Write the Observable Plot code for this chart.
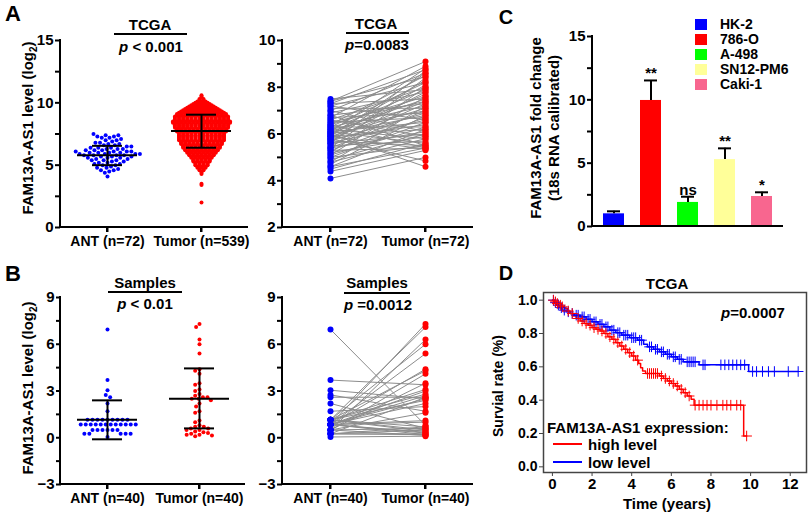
<!DOCTYPE html>
<html><head><meta charset="utf-8">
<script src="https://cdn.jsdelivr.net/npm/d3@7"></script>
<script src="https://cdn.jsdelivr.net/npm/@observablehq/plot@0.6"></script>
<style>
body{margin:0;background:#fff;}
#fig{position:relative;width:809px;height:513px;overflow:hidden;background:#fff;font-family:"Liberation Sans",Arial,sans-serif;font-weight:bold;color:#000;}
</style></head><body><div id="fig"></div>
<script>
// ---------- DATA ----------
// Panel A (left): TCGA unpaired
const aGroups = ["ANT (n=72)", "Tumor (n=539)"];
const aAntValues = [4.1,4.4,4.5,4.6,4.6,4.7,4.8,4.8,4.9,5.0,5.0,5.1,5.1,5.2,5.2,5.3,5.3,5.4,5.4,5.4,5.5,5.5,5.6,5.6,5.6,5.7,5.7,5.7,5.8,5.8,5.8,5.8,5.9,5.9,5.9,5.9,6.0,6.0,6.0,6.0,6.1,6.1,6.1,6.1,6.2,6.2,6.2,6.3,6.3,6.3,6.4,6.4,6.4,6.5,6.5,6.6,6.6,6.7,6.7,6.8,6.8,6.9,7.0,7.0,7.1,7.2,7.2,7.3,7.3,7.4,7.4,7.5];
const aTumorLevels = [10.6,10.5,10.4,10.3,10.2,10.1,10.0,9.9,9.8,9.7,9.6,9.5,9.4,9.3,9.2,9.1,9.0,8.9,8.8,8.7,8.6,8.5,8.4,8.3,8.2,8.1,8.0,7.9,7.8,7.7,7.6,7.5,7.4,7.3,7.2,7.1,7.0,6.9,6.8,6.7,6.6,6.5,6.4,6.3,6.2,6.1,6.0,5.9,5.8,5.7,5.6,5.5,5.4,5.3,5.2,5.1,5.0,4.9,4.8,4.7,4.6,4.5,4.4,4.3,3.5,3.4,2.0];
const aTumorCounts = [1,1,1,2,2,3,4,5,6,7,8,9,10,11,12,13,13,14,14,14,14,15,15,14,14,14,14,13,13,13,12,12,12,12,12,12,12,11,11,11,10,10,10,9,9,8,8,7,7,6,6,5,5,5,4,4,4,3,3,2,2,1,1,1,1,1,1];
const aMeans = [5.8, 7.75];
const aSdLow = [5.0, 6.4];
const aSdHigh = [6.55, 9.05];
const aYTicks = [0, 5, 10, 15];
const aYMinor = [2.5, 7.5, 12.5];

// Panel A (right): TCGA paired
const apGroups = ["ANT (n=72)", "Tumor (n=72)"];
const apAnt = aAntValues;
const apTumor = [5.0,5.3,5.6,6.2,5.4,6.8,5.8,7.2,6.0,6.5,5.5,7.6,6.3,5.9,8.0,6.7,5.4,7.0,6.1,8.4,5.7,7.3,6.6,8.7,6.0,7.8,5.5,6.9,4.85,7.4,8.1,6.4,5.35,7.1,8.6,6.2,7.7,4.6,6.8,8.3,5.6,7.5,6.5,8.8,7.0,5.8,7.9,6.3,8.2,7.2,5.4,7.6,8.5,6.7,7.4,5.9,8.0,6.9,8.9,7.3,5.5,7.8,6.1,8.6,7.1,8.2,6.6,8.75,7.5,9.1,8.45,7.9];
const apYTicks = [2, 4, 6, 8, 10];
const apYMinor = [3, 5, 7, 9];

// Panel B: clinical samples
const bGroups = ["ANT (n=40)", "Tumor (n=40)"];
const bAnt = [6.95,3.7,3.05,2.75,2.6,2.2,1.7,1.15,1.15,1.15,1.15,1.15,1.15,1.15,1.15,1.15,0.85,0.85,0.85,0.85,0.85,0.85,0.85,0.85,0.85,0.85,0.85,0.85,0.5,0.5,0.5,0.5,0.5,0.5,0.25,0.25,0.25,0.25,0.25,0.05];
const bTumor = [7.3,7.1,6.3,6.0,5.4,4.4,4.3,4.1,3.5,3.4,3.1,3.0,2.8,2.7,2.6,2.6,2.5,2.5,2.4,2.2,2.0,1.7,1.6,1.1,1.0,0.8,0.7,0.7,0.6,0.6,0.5,0.5,0.4,0.35,0.3,0.25,0.2,0.2,0.15,0.1];
const bTumorPaired = [0.8,3.4,2.5,1.7,2.6,0.6,2.0,7.1,4.3,0.5,2.8,0.4,6.0,2.4,0.7,3.1,1.0,5.4,0.3,2.2,4.4,0.2,2.7,1.1,7.3,3.0,0.35,2.5,6.3,0.6,4.1,0.15,3.5,1.6,0.25,2.6,0.5,0.7,0.2,0.1];
const bMeans = [1.15, 2.5];
const bSdLow = [-0.1, 0.6];
const bSdHigh = [2.4, 4.45];
const bYTicks = [-3, 0, 3, 6, 9];
const bYMinor = [-1.5, 1.5, 4.5, 7.5];

// Panel C: cell lines
const cCells = ["HK-2", "786-O", "A-498", "SN12-PM6", "Caki-1"];
const cValues = [1.0, 9.95, 1.9, 5.28, 2.37];
const cErrors = [0.2, 1.58, 0.45, 0.89, 0.33];
const cSignif = ["", "**", "ns", "**", "*"];
const cYTicks = [0, 5, 10, 15];
const cYMinor = [2.5, 7.5, 12.5];

// Panel D: Kaplan-Meier
const dHighT = [0,0.1,0.2,0.3,0.45,0.6,0.75,0.9,1.05,1.2,1.4,1.6,1.8,2.0,2.2,2.4,2.6,2.8,3.0,3.2,3.4,3.6,3.8,4.0,4.2,4.35,4.45,4.55,4.7,5.4,5.6,5.8,6.0,6.2,6.4,6.6,6.8,7.0,7.15,9.65,9.8];
const dHighS = [1.0,0.99,0.98,0.97,0.96,0.95,0.935,0.92,0.905,0.89,0.875,0.86,0.85,0.835,0.825,0.815,0.80,0.78,0.765,0.745,0.725,0.705,0.685,0.665,0.64,0.62,0.595,0.575,0.56,0.545,0.53,0.515,0.5,0.485,0.465,0.445,0.425,0.405,0.37,0.185,0.185];
const dHighCensor = [0.05,0.15,0.25,0.4,0.5,0.8,1.0,1.3,1.5,1.7,1.9,2.1,2.3,2.5,2.7,2.9,3.1,3.3,3.5,3.7,3.9,4.1,4.3,4.8,4.9,5.0,5.1,5.2,5.3,5.5,5.7,5.9,6.1,6.3,6.5,6.7,6.9,7.2,7.4,7.6,7.8,8.0,8.3,8.6,8.8,9.0,9.3,9.5,9.8];
const dLowT = [0,0.1,0.2,0.35,0.5,0.7,0.9,1.1,1.4,1.7,2.0,2.3,2.6,2.9,3.2,3.5,3.9,4.3,4.6,4.8,5.1,5.4,5.7,6.0,6.3,6.6,7.4,9.9,12.4];
const dLowS = [1.0,0.985,0.97,0.955,0.94,0.93,0.92,0.91,0.9,0.885,0.87,0.855,0.84,0.82,0.805,0.79,0.775,0.76,0.735,0.72,0.705,0.69,0.675,0.66,0.645,0.63,0.612,0.572,0.572];
const dLowCensor = [0.05,0.15,0.3,0.45,0.6,0.8,1.0,1.2,1.3,1.5,1.6,1.8,1.9,2.1,2.2,2.4,2.5,2.7,2.8,3.0,3.1,3.3,3.4,3.6,3.7,3.8,4.0,4.1,4.2,4.4,4.5,4.9,5.0,5.2,5.3,5.5,5.6,5.8,5.9,6.1,6.2,6.4,6.5,6.8,6.9,7.0,7.1,7.2,7.6,7.7,8.5,8.7,8.9,9.1,9.3,9.5,9.7,10.1,10.3,10.6,10.9,11.2,11.9,12.4];
const dXTicks = [0, 2, 4, 6, 8, 10, 12];
const dYTicks = [0, 0.2, 0.4, 0.6, 0.8, 1.0];
const dLegend = ["high level", "low level"];

// ---------- STYLE ----------
const BLUE = "#0000ff", RED = "#ff0000", GRAY = "#8c8c8c", INK = "#000000";
const cColors = ["#0000ff", "#ff0000", "#00ff00", "#ffff99", "#f8668f"];
const FONT = '"Liberation Sans", Arial, sans-serif';
const baseStyle = {fontFamily: FONT, fontSize: "15px", fontWeight: "bold", color: "#000", background: "transparent", overflow: "visible"};
const tickStyle = {stroke: INK, strokeWidth: 2, fill: INK};

const fig = document.getElementById("fig");
function addSvg(svg, left, top) {
  svg.style.position = "absolute"; svg.style.left = left + "px"; svg.style.top = top + "px";
  fig.appendChild(svg);
  return svg;
}
function addText(html, x, y, size, opts = {}) {
  const d = document.createElement("div");
  d.innerHTML = html;
  const tr = (opts.anchor === "start" ? "translate(0,-50%)" : "translate(-50%,-50%)") + (opts.rotate ? ` rotate(${opts.rotate}deg)` : "");
  Object.assign(d.style, {position: "absolute", left: x + "px", top: y + "px", fontSize: size + "px", lineHeight: opts.lh || "1", whiteSpace: "nowrap", transform: tr, textAlign: "center"});
  fig.appendChild(d);
}
function addBox(x, y, w, h, color) {
  const d = document.createElement("div");
  Object.assign(d.style, {position: "absolute", left: x + "px", top: y + "px", width: w + "px", height: h + "px", background: color});
  fig.appendChild(d);
}
function addRect(cx, cy, w, h, color) { addBox(cx - w / 2, cy - h / 2, w, h, color); }
// L-shaped axis lines + category ticks, placed from the plot's own frame and scale
function axisFrame(svg, left, top, o, scaleName) {
  const x0 = left + o.ml, x1 = left + o.width - o.mr;
  const yt = top + o.mt, yb = top + o.height - o.mb;
  addBox(x0 - 1, yt - 1, 2, yb - yt + 2, INK);
  addBox(x0 - 1, yb - 1, x1 - x0 + 1, 2, INK);
  if (scaleName) {
    const s = svg.scale(scaleName);
    const bw = s.bandwidth || 0;
    s.domain.forEach(v => addBox(left + s.apply(v) + bw / 2 - 1, yb, 2, 5, INK));
  }
}

// ---------- SWARM PANELS (A left, B left) ----------
function swarmPlot(o) {
  const left = o.leftValues.map(v => ({group: o.groups[0], value: v}));
  const stats = o.groups.map((g, i) => ({group: g, mean: o.means[i], lo: o.lo[i], hi: o.hi[i]}));
  const rightMark = o.rightRows
    ? Plot.dot(o.rightRows, {fx: "group", x: "offset", y: "value", r: 2, fill: RED})
    : Plot.dot(o.rightValues.map(v => ({group: o.groups[1], value: v})), Plot.dodgeX({anchor: "middle", padding: o.padR}, {fx: "group", y: "value", r: 2, fill: RED}));
  return Plot.plot({
    width: o.width, height: o.height,
    marginLeft: o.ml, marginRight: o.mr, marginTop: o.mt, marginBottom: o.mb,
    style: baseStyle,
    fx: {domain: o.groups, padding: 0, label: null},
    x: {domain: [-o.xHalf, o.xHalf], axis: null},
    y: {domain: o.yDomain, label: null},
    marks: [
      Plot.dot(left, Plot.dodgeX({anchor: "middle", padding: o.padL}, {fx: "group", y: "value", r: 2, fill: BLUE})),
      rightMark,
      Plot.ruleX(stats, {fx: "group", x: null, y1: "lo", y2: "hi", stroke: INK, strokeWidth: 2}),
      Plot.tickY(stats, {fx: "group", y: "mean", stroke: INK, strokeWidth: 2, insetLeft: o.meanInset, insetRight: o.meanInset}),
      Plot.tickY(stats, {fx: "group", y: "lo", stroke: INK, strokeWidth: 2, insetLeft: o.sdInset, insetRight: o.sdInset}),
      Plot.tickY(stats, {fx: "group", y: "hi", stroke: INK, strokeWidth: 2, insetLeft: o.sdInset, insetRight: o.sdInset}),
      Plot.axisY({ticks: o.yTicks, tickSize: 5, tickPadding: 2, ...tickStyle, fontSize: 15, label: null}),
      Plot.axisY({ticks: o.yMinor, tickSize: 5, tickFormat: () => "", ...tickStyle, label: null}),
      Plot.axisFx({anchor: "bottom", tickSize: 5, tickPadding: 4, ...tickStyle, fontSize: 14, label: null})
    ]
  });
}

// Tumor (n=539): dots laid side by side within each value row
const aTumorRows = aTumorLevels.flatMap((v, i) =>
  d3.range(aTumorCounts[i]).map(j => ({group: aGroups[1], value: v, offset: j - (aTumorCounts[i] - 1) / 2})));

const aOpts = {
  groups: aGroups, leftValues: aAntValues, rightRows: aTumorRows,
  means: aMeans, lo: aSdLow, hi: aSdHigh, yDomain: [0, 15], yTicks: aYTicks, yMinor: aYMinor, xHalf: 11.5,
  width: 255, height: 255, ml: 60, mr: 7, mt: 40, mb: 28, padL: 0.6, meanInset: 17, sdInset: 32
};
const aSvg = addSvg(swarmPlot(aOpts), 0, 0);
axisFrame(aSvg, 0, 0, aOpts, "fx");

const bOpts = {
  groups: bGroups, leftValues: bAnt, rightValues: bTumor,
  means: bMeans, lo: bSdLow, hi: bSdHigh, yDomain: [-3, 9], yTicks: bYTicks, yMinor: bYMinor, xHalf: 11.5,
  width: 255, height: 253, ml: 60, mr: 10, mt: 37, mb: 29, padL: 1, padR: 0.6, meanInset: 16, sdInset: 31
};
const bSvg = addSvg(swarmPlot(bOpts), 0, 260);
axisFrame(bSvg, 0, 260, bOpts, "fx");

// ---------- PAIRED PANELS (A right, B right) ----------
function pairedPlot(o) {
  const pairs = o.leftValues.map((v, i) => ({g1: o.groups[0], g2: o.groups[1], a: v, t: o.rightValues[i]}));
  return Plot.plot({
    width: o.width, height: o.height,
    marginLeft: o.ml, marginRight: o.mr, marginTop: o.mt, marginBottom: o.mb,
    style: baseStyle,
    x: {type: "point", domain: o.groups, padding: 0.5, label: null},
    y: {domain: o.yDomain, label: null},
    marks: [
      Plot.link(pairs, {x1: "g1", y1: "a", x2: "g2", y2: "t", stroke: GRAY, strokeWidth: 1}),
      Plot.dot(pairs, {x: "g1", y: "a", r: 3, fill: BLUE}),
      Plot.dot(pairs, {x: "g2", y: "t", r: 3, fill: RED}),
      Plot.axisY({ticks: o.yTicks, tickSize: 5, tickPadding: 2, ...tickStyle, fontSize: 15, label: null}),
      Plot.axisY({ticks: o.yMinor, tickSize: 5, tickFormat: () => "", ...tickStyle, label: null}),
      Plot.axisX({tickSize: 5, tickPadding: 4, ...tickStyle, fontSize: 14, label: null})
    ]
  });
}

const apOpts = {groups: apGroups, leftValues: apAnt, rightValues: apTumor, yDomain: [2, 10], yTicks: apYTicks, yMinor: apYMinor,
  width: 218, height: 255, ml: 22, mr: 5, mt: 40, mb: 28};
const apSvg = addSvg(pairedPlot(apOpts), 260, 0);
axisFrame(apSvg, 260, 0, apOpts, "x");

const bpOpts = {groups: bGroups, leftValues: bAnt, rightValues: bTumorPaired, yDomain: [-3, 9], yTicks: bYTicks, yMinor: bYMinor,
  width: 218, height: 253, ml: 22, mr: 5, mt: 37, mb: 29};
const bpSvg = addSvg(pairedPlot(bpOpts), 260, 260);
axisFrame(bpSvg, 260, 260, bpOpts, "x");

// ---------- PANEL C ----------
const cData = cCells.map((c, i) => ({cell: c, value: cValues[i], top: cValues[i] + cErrors[i], sig: cSignif[i]}));
const cOpts = {width: 249, height: 245, ml: 32, mr: 26, mt: 36, mb: 19};
const cSvg = addSvg(Plot.plot({
  width: cOpts.width, height: cOpts.height, marginLeft: cOpts.ml, marginRight: cOpts.mr, marginTop: cOpts.mt, marginBottom: cOpts.mb,
  style: baseStyle,
  x: {domain: cCells, paddingInner: 0.42, paddingOuter: 0.24, axis: null},
  y: {domain: [0, 15], label: null},
  color: {domain: cCells, range: cColors},
  marks: [
    Plot.barY(cData, {x: "cell", y: "value", fill: "cell"}),
    Plot.ruleX(cData, {x: "cell", y1: "value", y2: "top", stroke: INK, strokeWidth: 2}),
    Plot.tickY(cData, {x: "cell", y: "top", stroke: INK, strokeWidth: 2, insetLeft: 4, insetRight: 4}),
    Plot.text(cData, {x: "cell", y: "top", text: "sig", lineAnchor: "bottom", dy: -2, fontSize: 15, fill: INK}),
    Plot.axisY({ticks: cYTicks, tickSize: 5, tickPadding: 2, ...tickStyle, fontSize: 15, label: null}),
    Plot.axisY({ticks: cYMinor, tickSize: 5, tickFormat: () => "", ...tickStyle, label: null})
  ]
}), 560, 0);
axisFrame(cSvg, 560, 0, cOpts, null);

// legend C
cCells.forEach((c, i) => {
  addRect(701, 24 + i * 15, 12, 11, cColors[i]);
  addText(c, 720, 24 + i * 15, 14, {anchor: "start"});
});

// ---------- PANEL D ----------
function stepSeries(T, S) { return T.map((t, i) => ({t, s: S[i]})); }
function censorPoints(T, S, C) {
  const bis = d3.bisector(d => d).right;
  return C.map(t => ({t, s: S[Math.max(0, bis(T, t) - 1)]}));
}
const dHigh = stepSeries(dHighT, dHighS);
const dLow = stepSeries(dLowT, dLowS);
addSvg(Plot.plot({
  width: 304, height: 248, marginLeft: 38, marginRight: 3, marginTop: 27, marginBottom: 41,
  style: baseStyle,
  x: {domain: [-0.45, 12.82], label: null},
  y: {domain: [-0.034, 1.046], label: null},
  marks: [
    Plot.frame({stroke: "#444", strokeWidth: 1.5}),
    Plot.axisX({ticks: dXTicks, tickSize: 4, tickPadding: 2, stroke: "#444", fill: INK, fontSize: 15, label: null}),
    Plot.axisY({ticks: dYTicks, tickSize: 4, tickPadding: 2, stroke: "#444", fill: INK, tickFormat: d3.format(".1f"), fontSize: 14, label: null}),
    Plot.line(dLow, {x: "t", y: "s", curve: "step-after", stroke: BLUE, strokeWidth: 1.5}),
    Plot.line(dHigh, {x: "t", y: "s", curve: "step-after", stroke: RED, strokeWidth: 1.5}),
    Plot.dot(censorPoints(dLowT, dLowS, dLowCensor), {x: "t", y: "s", symbol: "plus", r: 3.5, stroke: BLUE, fill: "none", strokeWidth: 1}),
    Plot.dot(censorPoints(dHighT, dHighS, dHighCensor), {x: "t", y: "s", symbol: "plus", r: 3.5, stroke: RED, fill: "none", strokeWidth: 1})
  ]
}), 505, 265);

// ---------- TEXT ----------
addText("A", 13, 14, 22);
addText("B", 13, 274, 22);
addText("C", 506, 17, 20);
addText("D", 506, 273, 20);

addText("FAM13A-AS1 level (log<sub style='font-size:10px'>2</sub>)", 29, 128, 15, {rotate: -90});
addText("FAM13A-AS1 level (log<sub style='font-size:10px'>2</sub>)", 29, 388, 15, {rotate: -90});
addText("FAM13A-AS1 fold change<br>(18s RNA calibrated)", 545, 128, 15, {rotate: -90, lh: "1.2"});

addText("TCGA", 150, 24, 15); addRect(150, 34, 73, 2, INK); addText("<i>p</i> &lt; 0.001", 151, 46, 15);
addText("TCGA", 376, 23, 15); addRect(377, 33, 63, 2, INK); addText("<i>p</i>=0.0083", 377, 44, 15);
addText("Samples", 145, 282, 15); addRect(145, 292, 74, 2, INK); addText("<i>p</i> &lt; 0.01", 145, 303, 15);
addText("Samples", 377, 282, 15); addRect(377, 293, 66, 2, INK); addText("<i>p</i> =0.0012", 378, 304, 15);

addText("TCGA", 667, 283, 15);
addText("<i>p</i>=0.0007", 753, 312, 15);
addText("FAM13A-AS1 expression:", 547, 427, 15, {anchor: "start"});
[RED, BLUE].forEach((col, i) => {
  addRect(567, 444 + i * 18, 29, 2, col);
  addText(dLegend[i], 588, 444 + i * 18, 15, {anchor: "start"});
});
addText("Time (years)", 667, 503, 15);
addText("Survial rate (%)", 498, 386, 14, {rotate: -90});
</script></body></html>
